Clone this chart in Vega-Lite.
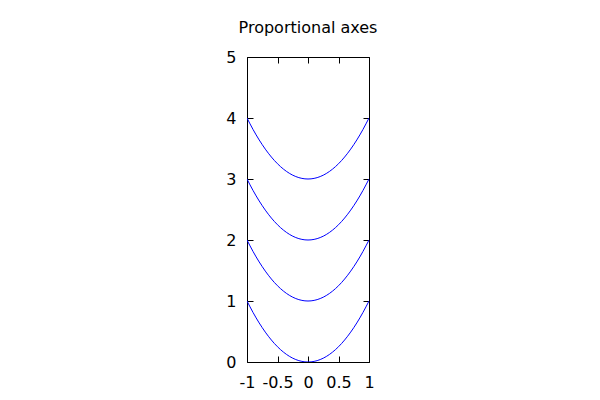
{
  "$schema": "https://vega.github.io/schema/vega-lite/v6.json",
  "autosize": {"type": "none"},
  "padding": {"left": 247, "top": 57, "right": 231, "bottom": 38},
  "width": 122,
  "height": 305,
  "title": {"text": "Proportional axes", "font": "DejaVu Sans", "fontSize": 16, "fontWeight": "normal", "color": "#000000", "offset": 13, "anchor": "middle"},
  "config": {
    "view": {"stroke": null},
    "axis": {"grid": false, "domainColor": "#000000", "tickColor": "#000000", "tickSize": -6, "labelFont": "DejaVu Sans", "labelFontSize": 16, "labelColor": "#000000", "title": null, "domainWidth": 1, "tickWidth": 1}
  },
  "data": {"values": [
    {"x": -1.0, "y": 1.00, "k": 0}, {"x": -0.9, "y": 0.81, "k": 0}, {"x": -0.8, "y": 0.64, "k": 0}, {"x": -0.7, "y": 0.49, "k": 0}, {"x": -0.6, "y": 0.36, "k": 0}, {"x": -0.5, "y": 0.25, "k": 0}, {"x": -0.4, "y": 0.16, "k": 0}, {"x": -0.3, "y": 0.09, "k": 0}, {"x": -0.2, "y": 0.04, "k": 0}, {"x": -0.1, "y": 0.01, "k": 0}, {"x": 0.0, "y": 0.00, "k": 0}, {"x": 0.1, "y": 0.01, "k": 0}, {"x": 0.2, "y": 0.04, "k": 0}, {"x": 0.3, "y": 0.09, "k": 0}, {"x": 0.4, "y": 0.16, "k": 0}, {"x": 0.5, "y": 0.25, "k": 0}, {"x": 0.6, "y": 0.36, "k": 0}, {"x": 0.7, "y": 0.49, "k": 0}, {"x": 0.8, "y": 0.64, "k": 0}, {"x": 0.9, "y": 0.81, "k": 0}, {"x": 1.0, "y": 1.00, "k": 0},
    {"x": -1.0, "y": 2.00, "k": 1}, {"x": -0.9, "y": 1.81, "k": 1}, {"x": -0.8, "y": 1.64, "k": 1}, {"x": -0.7, "y": 1.49, "k": 1}, {"x": -0.6, "y": 1.36, "k": 1}, {"x": -0.5, "y": 1.25, "k": 1}, {"x": -0.4, "y": 1.16, "k": 1}, {"x": -0.3, "y": 1.09, "k": 1}, {"x": -0.2, "y": 1.04, "k": 1}, {"x": -0.1, "y": 1.01, "k": 1}, {"x": 0.0, "y": 1.00, "k": 1}, {"x": 0.1, "y": 1.01, "k": 1}, {"x": 0.2, "y": 1.04, "k": 1}, {"x": 0.3, "y": 1.09, "k": 1}, {"x": 0.4, "y": 1.16, "k": 1}, {"x": 0.5, "y": 1.25, "k": 1}, {"x": 0.6, "y": 1.36, "k": 1}, {"x": 0.7, "y": 1.49, "k": 1}, {"x": 0.8, "y": 1.64, "k": 1}, {"x": 0.9, "y": 1.81, "k": 1}, {"x": 1.0, "y": 2.00, "k": 1},
    {"x": -1.0, "y": 3.00, "k": 2}, {"x": -0.9, "y": 2.81, "k": 2}, {"x": -0.8, "y": 2.64, "k": 2}, {"x": -0.7, "y": 2.49, "k": 2}, {"x": -0.6, "y": 2.36, "k": 2}, {"x": -0.5, "y": 2.25, "k": 2}, {"x": -0.4, "y": 2.16, "k": 2}, {"x": -0.3, "y": 2.09, "k": 2}, {"x": -0.2, "y": 2.04, "k": 2}, {"x": -0.1, "y": 2.01, "k": 2}, {"x": 0.0, "y": 2.00, "k": 2}, {"x": 0.1, "y": 2.01, "k": 2}, {"x": 0.2, "y": 2.04, "k": 2}, {"x": 0.3, "y": 2.09, "k": 2}, {"x": 0.4, "y": 2.16, "k": 2}, {"x": 0.5, "y": 2.25, "k": 2}, {"x": 0.6, "y": 2.36, "k": 2}, {"x": 0.7, "y": 2.49, "k": 2}, {"x": 0.8, "y": 2.64, "k": 2}, {"x": 0.9, "y": 2.81, "k": 2}, {"x": 1.0, "y": 3.00, "k": 2},
    {"x": -1.0, "y": 4.00, "k": 3}, {"x": -0.9, "y": 3.81, "k": 3}, {"x": -0.8, "y": 3.64, "k": 3}, {"x": -0.7, "y": 3.49, "k": 3}, {"x": -0.6, "y": 3.36, "k": 3}, {"x": -0.5, "y": 3.25, "k": 3}, {"x": -0.4, "y": 3.16, "k": 3}, {"x": -0.3, "y": 3.09, "k": 3}, {"x": -0.2, "y": 3.04, "k": 3}, {"x": -0.1, "y": 3.01, "k": 3}, {"x": 0.0, "y": 3.00, "k": 3}, {"x": 0.1, "y": 3.01, "k": 3}, {"x": 0.2, "y": 3.04, "k": 3}, {"x": 0.3, "y": 3.09, "k": 3}, {"x": 0.4, "y": 3.16, "k": 3}, {"x": 0.5, "y": 3.25, "k": 3}, {"x": 0.6, "y": 3.36, "k": 3}, {"x": 0.7, "y": 3.49, "k": 3}, {"x": 0.8, "y": 3.64, "k": 3}, {"x": 0.9, "y": 3.81, "k": 3}, {"x": 1.0, "y": 4.00, "k": 3}
  ]},
  "layer": [
    {
      "mark": {"type": "line", "color": "#0000ff", "strokeWidth": 1, "interpolate": "monotone", "clip": true},
      "encoding": {
        "x": {"field": "x", "type": "quantitative", "scale": {"domain": [-1, 1], "nice": false, "zero": false},
              "axis": {"orient": "bottom", "values": [-1, -0.5, 0, 0.5, 1], "labelExpr": "'' + datum.value", "labelPadding": 18, "labelFlush": false, "labelOverlap": false}},
        "y": {"field": "y", "type": "quantitative", "scale": {"domain": [0, 5], "nice": false, "zero": false},
              "axis": {"orient": "left", "values": [0, 1, 2, 3, 4, 5], "labelPadding": 17, "labelFlush": false, "labelOverlap": false}},
        "detail": {"field": "k", "type": "nominal"}
      }
    },
    {
      "mark": {"type": "line", "opacity": 0},
      "encoding": {
        "x": {"field": "x", "type": "quantitative", "axis": {"orient": "top", "values": [-1, -0.5, 0, 0.5, 1], "labels": false}},
        "y": {"field": "y", "type": "quantitative", "axis": {"orient": "right", "values": [0, 1, 2, 3, 4, 5], "labels": false}},
        "detail": {"field": "k", "type": "nominal"}
      }
    }
  ],
  "resolve": {"axis": {"x": "independent", "y": "independent"}}
}
